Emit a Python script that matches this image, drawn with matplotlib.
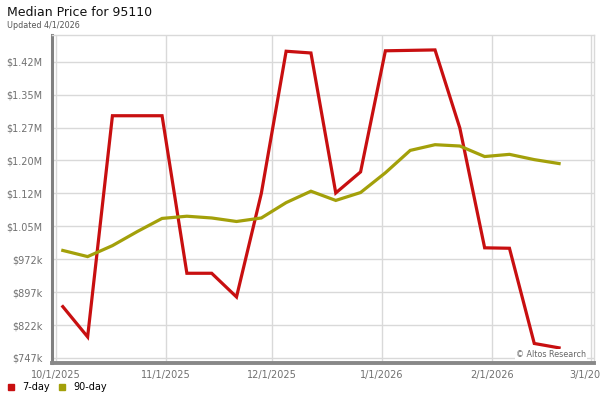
import matplotlib
matplotlib.use("Agg")
import matplotlib.pyplot as plt
import matplotlib.dates as mdates
import numpy as np
import datetime as dt

# Data (values in $ thousands), weekly points
start_date = dt.date(2025, 10, 3)
n_points = 21
dates = [start_date + dt.timedelta(days=7 * i) for i in range(n_points)]
seven_day = [864, 795, 1299, 1299, 1299, 940, 940, 886, 1122, 1446, 1442,
             1123, 1171, 1447, 1448, 1449, 1271, 998, 997, 780, 770]
ninety_day = [992, 978, 1003, 1035, 1065, 1070, 1066, 1058, 1066, 1101, 1127,
              1106, 1124, 1169, 1220, 1233, 1230, 1206, 1211, 1199, 1190]
y_ticks = [747, 822, 897, 972, 1047, 1122, 1197, 1272, 1347, 1422]
x_ticks = [dt.date(2025, 10, 1), dt.date(2025, 11, 1), dt.date(2025, 12, 1),
           dt.date(2026, 1, 1), dt.date(2026, 2, 1), dt.date(2026, 3, 1)]
x_tick_labels = ["10/1/2025", "11/1/2025", "12/1/2025", "1/1/2026", "2/1/2026", "3/1/2026"]

red = "#c80f10"
olive = "#a3a00a"

fig = plt.figure(figsize=(6, 4), dpi=100)
ax = fig.add_axes([52 / 600, 1 - 363 / 400, 542 / 600, 328 / 400])

ax.plot(dates, seven_day, color=red, lw=2.3, solid_joinstyle="miter", zorder=3)
ax.plot(dates, ninety_day, color=olive, lw=2.3, solid_joinstyle="miter", zorder=3)

ax.set_xlim(mdates.date2num(dt.date(2025, 10, 1)) - 1.05,
            mdates.date2num(dt.date(2026, 3, 1)) + 0.85)
ax.set_ylim(735.5, 1483)

def fmt(v):
    return f"${v/1000:.2f}M" if v >= 1000 else f"${v:.0f}k"

ax.set_yticks(y_ticks)
ax.set_yticklabels([fmt(v) for v in y_ticks])
ax.set_xticks(x_ticks)
ax.set_xticklabels(x_tick_labels)

ax.grid(True, color="#d9d9d9", lw=1.0)
ax.set_axisbelow(True)
ax.tick_params(axis="both", length=0, labelsize=7, labelcolor="#707070")
ax.tick_params(axis="y", pad=7)
ax.tick_params(axis="x", pad=5)

for s in ["top", "right"]:
    ax.spines[s].set_color("#d9d9d9")
    ax.spines[s].set_linewidth(1.0)
ax.spines["left"].set_color("#808080")
ax.spines["left"].set_linewidth(2.2)
ax.spines["bottom"].set_color("#888888")
ax.spines["bottom"].set_linewidth(2.8)

fig.text(7 / 600, 1 - 13 / 400, "Median Price for 95110", fontsize=9, va="center",
         ha="left", color="#111111")
fig.text(7 / 600, 1 - 25 / 400, "Updated 4/1/2026", fontsize=5.8, va="center",
         ha="left", color="#555555")

ax.text(0.985, 0.025, "© Altos Research", transform=ax.transAxes, fontsize=5.8,
        color="#666666", ha="right", va="center",
        bbox=dict(facecolor="white", edgecolor="none", pad=1))

# Legend
fig.patches.append(plt.Rectangle((8 / 600, 1 - 390 / 400), 6 / 600, 6 / 400,
                                 transform=fig.transFigure, color=red, figure=fig))
fig.text(22 / 600, 1 - 387 / 400, "7-day", fontsize=7, va="center", ha="left")
fig.patches.append(plt.Rectangle((59 / 600, 1 - 390 / 400), 6 / 600, 6 / 400,
                                 transform=fig.transFigure, color=olive, figure=fig))
fig.text(73 / 600, 1 - 387 / 400, "90-day", fontsize=7, va="center", ha="left")

fig.savefig("out.png", dpi=100)
